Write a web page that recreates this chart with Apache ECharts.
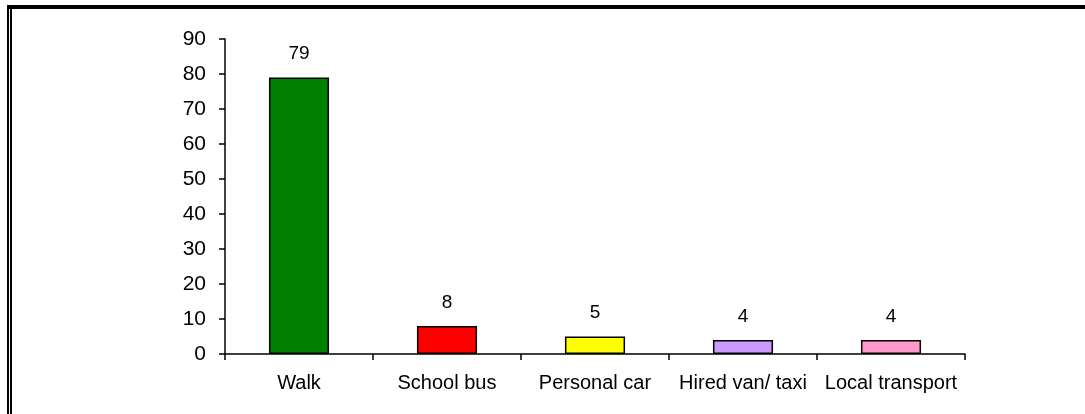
<!DOCTYPE html>
<html>
<head>
<meta charset="utf-8">
<script src="https://cdn.jsdelivr.net/npm/echarts@6/dist/echarts.min.js"></script>
<style>
html,body{margin:0;padding:0;background:#fff;}
#chart{width:1085px;height:414px;}
</style>
</head>
<body>
<div id="chart"></div>
<script>
const categories = ['Walk', 'School bus', 'Personal car', 'Hired van/ taxi', 'Local transport'];
const values = [79, 8, 5, 4, 4];
const barColors = ['#008000', '#ff0000', '#ffff00', '#cc99ff', '#ff99cc'];
const yMin = 0, yMax = 90, yInterval = 10;

const chart = echarts.init(document.getElementById('chart'), null, {renderer: 'canvas'});
const font = '"Liberation Sans", Arial, sans-serif';
chart.setOption({
  animation: false,
  backgroundColor: '#fff',
  graphic: [
    {type: 'rect', shape: {x: 7, y: 5, width: 1078, height: 4}, style: {fill: '#000'}},
    {type: 'rect', shape: {x: 7, y: 5, width: 2, height: 409}, style: {fill: '#000'}},
    {type: 'rect', shape: {x: 10, y: 9, width: 2, height: 405}, style: {fill: '#000'}}
  ],
  grid: {left: 225, right: 120, top: 39, bottom: 60},
  xAxis: {
    type: 'category',
    data: categories,
    boundaryGap: true,
    axisLine: {lineStyle: {color: '#000', width: 1.5}},
    axisTick: {show: true, length: 6, lineStyle: {color: '#000', width: 1.5}},
    axisLabel: {color: '#000', fontSize: 20, fontFamily: font, margin: 19, interval: 0}
  },
  yAxis: {
    type: 'value',
    min: yMin, max: yMax, interval: yInterval,
    splitLine: {show: false},
    axisLine: {show: true, lineStyle: {color: '#000', width: 1.5}},
    axisTick: {show: true, length: 6, lineStyle: {color: '#000', width: 1.5}},
    axisLabel: {color: '#000', fontSize: 21, fontFamily: font, margin: 19}
  },
  series: [{
    type: 'bar',
    data: values.map((v, i) => ({value: v, itemStyle: {color: barColors[i]}})),
    barWidth: '40.6%',
    itemStyle: {borderColor: '#000', borderWidth: 1.5},
    label: {show: true, position: 'top', distance: 14, color: '#000', fontSize: 19, fontFamily: font}
  }]
});
</script>
</body>
</html>
